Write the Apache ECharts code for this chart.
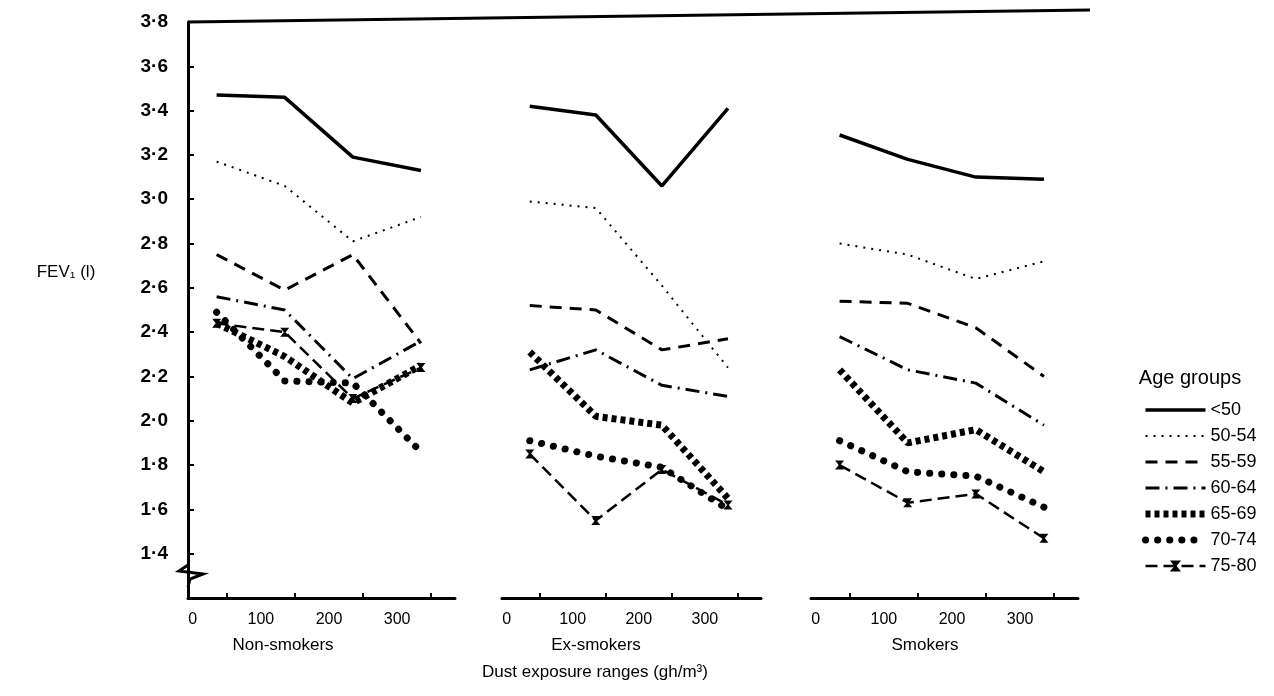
<!DOCTYPE html>
<html>
<head>
<meta charset="utf-8">
<script src="https://cdn.jsdelivr.net/npm/echarts@6/dist/echarts.min.js"></script>
<style>
  html, body { margin: 0; padding: 0; background: #fff; }
  #chart { width: 1274px; height: 696px; }
</style>
</head>
<body>
<div id="chart"></div>
<script>
// FEV1 against dust exposure, by age group, for three smoking groups

const panels = ['Non-smokers', 'Ex-smokers', 'Smokers'];
const ageGroups = ['<50', '50-54', '55-59', '60-64', '65-69', '70-74', '75-80'];
const exposure = [35, 135, 235, 335];          // plotted position of the four dust ranges
const xTickLabels = [0, 100, 200, 300];
const xMidTicks = [50, 150, 250, 350];
const yTickLabels = [1.4, 1.6, 1.8, 2.0, 2.2, 2.4, 2.6, 2.8, 3.0, 3.2, 3.4, 3.6, 3.8];

// rows follow ageGroups
const nonSmokers = [
  [3.47, 3.46, 3.19, 3.13],
  [3.17, 3.06, 2.81, 2.92],
  [2.75, 2.59, 2.75, 2.35],
  [2.56, 2.50, 2.19, 2.36],
  [2.44, 2.29, 2.08, 2.25],
  [2.49, 2.18, 2.17, 1.86],
  [2.44, 2.40, 2.10, 2.24],
];
const exSmokers = [
  [3.42, 3.38, 3.06, 3.41],
  [2.99, 2.96, 2.61, 2.24],
  [2.52, 2.50, 2.32, 2.37],
  [2.23, 2.32, 2.16, 2.11],
  [2.31, 2.02, 1.98, 1.65],
  [1.91, 1.84, 1.79, 1.60],
  [1.85, 1.55, 1.78, 1.62],
];
const smokers = [
  [3.29, 3.18, 3.10, 3.09],
  [2.80, 2.75, 2.64, 2.72],
  [2.54, 2.53, 2.42, 2.20],
  [2.38, 2.23, 2.17, 1.98],
  [2.23, 1.90, 1.96, 1.77],
  [1.91, 1.77, 1.75, 1.61],
  [1.80, 1.63, 1.67, 1.47],
];
const panelData = [nonSmokers, exSmokers, smokers];

const FONT = '"Liberation Sans", Arial, sans-serif';
const INK = '#000';

// line look for each age group
const groupLines = [
  { width: 3.5, type: 'solid' },
  { width: 2, type: [2, 6] },
  { width: 3, type: [12, 8] },
  { width: 3, type: [14, 6, 2, 6] },
  { width: 7, type: [5, 4] },
  { width: 7, type: [0.1, 12], cap: 'round' },
  { width: 2.5, type: [12, 6] },
];
const hourglass = 'path://M0,0L10,0L6,5L10,10L0,10L4,5Z';

const grids = [
  { left: 188, width: 267 },
  { left: 502, width: 259 },
  { left: 811, width: 267 },
].map(g => ({ ...g, top: 22, height: 576 }));

const xAxes = panels.map((p, i) => ({
  type: 'value',
  gridIndex: i,
  min: -7,
  max: 385,
  splitLine: { show: false },
  axisLine: { onZero: false, lineStyle: { color: INK, width: 3 } },
  axisTick: { show: true, inside: true, length: 5, customValues: xMidTicks, lineStyle: { color: INK, width: 2 } },
  axisLabel: { customValues: xTickLabels, color: INK, fontSize: 16, fontFamily: FONT, margin: 14 },
}));

const yAxes = panels.map((p, i) => ({
  type: 'value',
  gridIndex: i,
  min: 1.2,
  max: 3.8,
  show: i === 0,
  splitLine: { show: false },
  axisLine: { show: true, onZero: false, lineStyle: { color: INK, width: 3 } },
  axisTick: { show: true, inside: true, length: 6, customValues: yTickLabels, lineStyle: { color: INK, width: 2 } },
  axisLabel: {
    customValues: yTickLabels,
    color: INK, fontSize: 19, fontWeight: 'bold', fontFamily: FONT, margin: 20,
    formatter: v => v.toFixed(1).replace('.', '·'),
  },
}));

const series = [];
panelData.forEach((rows, p) => {
  rows.forEach((vals, g) => {
    const last = g === ageGroups.length - 1;
    series.push({
      type: 'line',
      name: ageGroups[g],
      xAxisIndex: p,
      yAxisIndex: p,
      data: exposure.map((x, k) => [x, vals[k]]),
      symbol: last ? hourglass : 'none',
      symbolSize: 9,
      showSymbol: last,
      itemStyle: { color: INK },
      lineStyle: { color: INK, ...groupLines[g] },
      emphasis: { disabled: true },
      animation: false,
    });
  });
});

const legendItems = ageGroups.map((name, g) => ({
  name,
  itemStyle: { opacity: g === ageGroups.length - 1 ? 1 : 0 },
  lineStyle: { color: INK, ...groupLines[g] },
}));

const label = (text, x, y, size) => ({
  type: 'text', x, y,
  style: { text, fill: INK, font: `${size}px ${FONT}`, align: 'center', verticalAlign: 'middle' },
});

const chart = echarts.init(document.getElementById('chart'));
chart.setOption({
  backgroundColor: '#fff',
  animation: false,
  grid: grids,
  xAxis: xAxes,
  yAxis: yAxes,
  series,
  legend: {
    orient: 'vertical',
    left: 1137,
    top: 396,
    itemWidth: 60,
    itemHeight: 14,
    itemGap: 8,
    data: legendItems,
    textStyle: { color: INK, fontSize: 18, fontFamily: FONT },
    selectedMode: false,
  },
  graphic: [
    // frame line along the top of the plot
    { type: 'line', shape: { x1: 188, y1: 22, x2: 1090, y2: 10 }, style: { stroke: INK, lineWidth: 3 } },
    // axis break mark
    { type: 'rect', shape: { x: 183, y: 567, width: 10, height: 18 }, style: { fill: '#fff' } },
    { type: 'polyline', shape: { points: [[188, 565], [179, 571], [203, 574], [190, 579], [188, 587]] }, style: { stroke: INK, lineWidth: 3, fill: null } },
    label('FEV₁ (l)', 66, 272, 17),
    label(panels[0], 283, 645, 17),
    label(panels[1], 596, 645, 17),
    label(panels[2], 925, 645, 17),
    label('Dust exposure ranges (gh/m³)', 595, 672, 17),
    label('Age groups', 1190, 378, 20),
  ],
});
</script>
</body>
</html>
